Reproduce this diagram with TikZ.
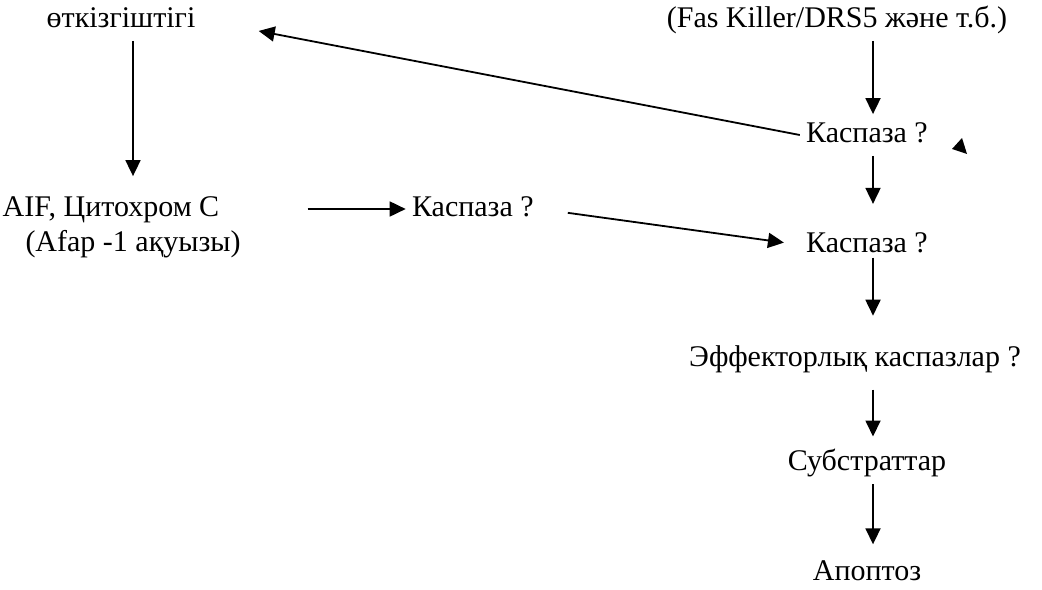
\documentclass[tikz,border=0pt]{standalone}
\usepackage{fontspec}
\setmainfont{Liberation Serif}
\usetikzlibrary{positioning}
\usetikzlibrary{arrows.meta}

\begin{document}
\begin{tikzpicture}[x=0.5pt, y=-0.5pt, node distance=34pt,
        >={Triangle[length=8pt,width=7.5pt]},
        term/.style={font=\fontsize{15}{18}\selectfont, text height=11pt,
            text depth=3.5pt, inner sep=3pt},
        flow/.style={line width=0.9pt, ->}]
        \useasboundingbox (0,0) rectangle (1042,589);
        \node[term] (conduct) at (121,20) {өткізгіштігі};
        \node[term] (fas) at (837,20) {(Fas Killer/DRS5 және т.б.)};
        \node[term] (kasp1) at (867,135) {Каспаза ?};
        \node[term] (aif) at (111,209) {AIF, Цитохром С};
        \node[term] (afap) [below=-3.5pt of aif, xshift=11pt] {(Afap -1 ақуызы)};
        \node[term] (kaspm) [right=90pt of aif] {Каспаза ?};
        \node[term] (kasp2) [below=of kasp1] {Каспаза ?};
        \node[term] (effect) [below=of kasp2, xshift=-6pt, yshift=-2pt] {Эффекторлық каспазлар ?};
        \node[term] (subst) [below=of effect, xshift=6pt, yshift=2.5pt] {Субстраттар};
        \node[term] (apop) [below=of subst] {Апоптоз};
        \coordinate (axis) at (873,0);

        \draw[flow, shorten >=6pt] (conduct.south -| afap) -- (aif.north -| afap);
        \draw[flow, shorten >=29pt] (kasp1.west) -- (conduct.east);
        \draw[flow] (fas.south -| axis) -- (kasp1.north -| axis);
        \draw[flow, shorten <=41pt] (aif.east) -- (kaspm.west);
        \draw[flow, shorten <=14pt, shorten >=8pt] (kaspm.east) -- (kasp2.west);
        \draw[flow, shorten >=10pt] (kasp1.south -| axis) -- (kasp2.north -| axis);
        \draw[flow, shorten <=-4pt, shorten >=11pt] (kasp2.south -| axis) -- (effect.north -| axis);
        \draw[flow, shorten <=5pt, shorten >=3pt] (effect.south -| axis) -- (subst.north -| axis);
        \draw[flow, shorten >=4pt] (subst.south -| axis) -- (apop.north -| axis);
        % loose arrow tip beside the first caspase
        \fill (962,138) -- (952,149) -- (967,154) -- cycle;
    \end{tikzpicture}
\end{document}
